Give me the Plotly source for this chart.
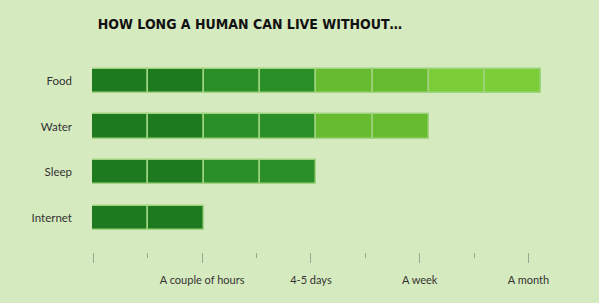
import plotly.graph_objects as go

categories = ["Food", "Water", "Sleep", "Internet"]
segments = [8, 6, 4, 2]
segment_colors = ["#1e7a1f", "#1e7a1f", "#2b8f27", "#2b8f27",
                  "#67bb2f", "#67bb2f", "#7cce39", "#7cce39"]
tick_vals = [0, 2, 4, 6, 8]
tick_text = ["", "A couple of hours", "4-5 days", "A week", "A month"]
minor_vals = [1, 3, 5, 7]
title = "HOW LONG A HUMAN CAN LIVE WITHOUT…"

BG = "#d6eabf"
fig = go.Figure()
for k in range(max(segments)):
    ys = [c for c, n in zip(categories, segments) if n > k]
    fig.add_trace(go.Bar(
        y=ys, x=[1] * len(ys), base=[k] * len(ys), orientation="h",
        width=0.53, marker=dict(color=segment_colors[k],
                                line=dict(color="#9fd37f", width=1.5)),
        showlegend=False, hoverinfo="skip"))
# empty trace so the tick axis is drawn
fig.add_trace(go.Scatter(x=[None], y=[None], xaxis="x2", yaxis="y",
                         mode="markers", showlegend=False, hoverinfo="skip"))

fig.update_layout(
    width=599, height=303, paper_bgcolor=BG, plot_bgcolor=BG,
    margin=dict(l=92, r=9, t=55, b=51),
    barmode="overlay", bargap=0,
    title=dict(text="<b>" + title + "</b>", xref="container", yref="container",
               x=250 / 599, xanchor="center", y=1 - 24 / 303, yanchor="middle",
               font=dict(family="DejaVu Sans Condensed", size=14, color="#111")),
    xaxis=dict(range=[0, 8.877], showgrid=False, zeroline=False,
               showticklabels=False, ticks="", showline=False, fixedrange=True),
    xaxis2=dict(overlaying="x", anchor="y", side="bottom",
                range=[-0.024, 9.13], showgrid=False, zeroline=False, showline=False,
                tickmode="array", tickvals=tick_vals, ticktext=tick_text,
                ticks="outside", ticklen=10, tickwidth=1, tickcolor="#97a88f",
                ticklabelstandoff=8,
                minor=dict(tickmode="array", tickvals=minor_vals, ticks="outside",
                           ticklen=5, tickwidth=1, tickcolor="#97a88f", showgrid=False),
                tickfont=dict(family="Lato", size=11, color="#333")),
    yaxis=dict(type="category", categoryorder="array", categoryarray=categories,
               range=[3.74, -0.56], showgrid=False, zeroline=False, showline=False,
               ticks="", ticklabelstandoff=19,
               tickfont=dict(family="Lato", size=11.5, color="#333")),
)
fig.write_html("out.html")
